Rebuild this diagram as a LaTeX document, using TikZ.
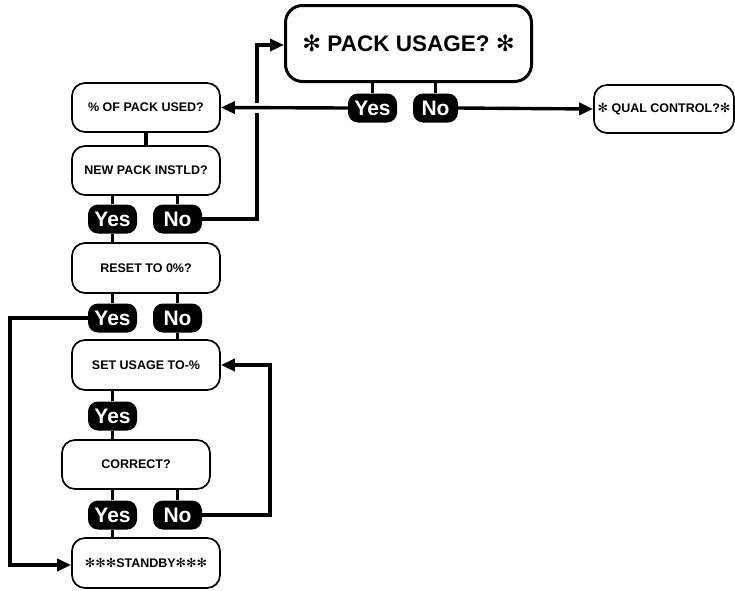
\documentclass[tikz,border=0pt]{standalone}
\usepackage{fontspec}
\setmainfont{Liberation Sans}
\newfontfamily\symfont{DejaVu Sans}
\usetikzlibrary{arrows.meta,calc}
\newcommand{\myast}{{\symfont\mdseries ✻}}
\begin{document}
\begin{tikzpicture}[x=1pt,y=-1pt,
  box/.style={draw, line width=1.7pt, rounded corners=13pt, minimum width=148pt, minimum height=49pt, inner sep=0pt, align=center, font=\bfseries\fontsize{12.5}{14}\selectfont},
  pill/.style={fill=black, text=white, rounded corners=10pt, minimum width=49pt, minimum height=29pt, inner sep=0pt, font=\bfseries\fontsize{21}{21}\selectfont},
  conn/.style={line width=3.4pt},
  arr/.style={conn, -{Triangle[length=14pt,width=12pt]}}]
\useasboundingbox (0,0) rectangle (735,590);
% boxes
\node[box, line width=3pt, rounded corners=17pt, minimum width=246pt, minimum height=76pt, font=\bfseries\fontsize{22.5}{26}\selectfont] (pack) at (408.5,43.5) {\myast\ PACK USAGE? \myast};
\node[box, minimum width=140pt, minimum height=48pt, font=\bfseries\fontsize{12.5}{14}\selectfont] (qual) at (664,109) {\myast\ QUAL CONTROL?\myast};
\node[box] (used) at (146,107.5) {\% OF PACK USED?};
\node[box] (newp) at (146,170.5) {NEW PACK INSTLD?};
\node[box, minimum height=50pt] (reset) at (146,268) {RESET TO 0\%?};
\node[box, minimum height=50pt] (set) at (146,365) {SET USAGE TO-\%};
\node[box] (correct) at (136,464.5) {CORRECT?};
\node[box, minimum height=50pt] (standby) at (146,563) {\myast\myast\myast STANDBY\myast\myast\myast};
% pills
\node[pill] (yes0) at (372.5,108) {Yes};
\node[pill, minimum width=45pt] (no0) at (435.5,108) {No};
\node[pill] (yes1) at (112.5,219) {Yes};
\node[pill] (no1) at (177.5,219) {No};
\node[pill] (yes2) at (112.5,318) {Yes};
\node[pill] (no2) at (177.5,318) {No};
\node[pill] (yes3) at (112.5,416) {Yes};
\node[pill] (yes4) at (112.5,515) {Yes};
\node[pill] (no4) at (177.5,515) {No};
% junction coordinates
\coordinate (ja) at (257,45);
\coordinate (jb) at (10,565);
\coordinate (jc) at (270,365);
% short connectors
\draw[conn] (yes0.north) -- (yes0.north |- pack.south);
\draw[conn] (no0.north) -- (no0.north |- pack.south);
\draw[conn] (used.south) -- (newp.north);
\draw[conn] (yes1.north) -- (yes1.north |- newp.south);
\draw[conn] (no1.north) -- (no1.north |- newp.south);
\draw[conn] (yes1.south) -- (yes1.south |- reset.north);
\draw[conn] (yes2.north) -- (yes2.north |- reset.south);
\draw[conn] (no2.north) -- (no2.north |- reset.south);
\draw[conn] (no2.south) -- (no2.south |- set.north);
\draw[conn] (yes3.north) -- (yes3.north |- set.south);
\draw[conn] (yes3.south) -- (yes3.south |- correct.north);
\draw[conn] (yes4.north) -- (yes4.north |- correct.south);
\draw[conn] (no4.north) -- (no4.north |- correct.south);
\draw[conn] (yes4.south) -- (yes4.south |- standby.north);
% long connectors
\draw[arr] (no1.east) -| (ja) -- (ja -| pack.west);
\path (ja |- yes0.west) coordinate (cross);
\draw[white, line width=10pt] ([xshift=-4pt]cross) -- ([xshift=4pt]cross);
\draw[arr] (yes0.west) -- (used.east);
\draw[arr] (no0.east) -- (qual.west);
\draw[arr] (yes2.west) -| (jb) -- (jb -| standby.west);
\draw[arr] (no4.east) -| (jc) -- (set.east);
\end{tikzpicture}
\end{document}
